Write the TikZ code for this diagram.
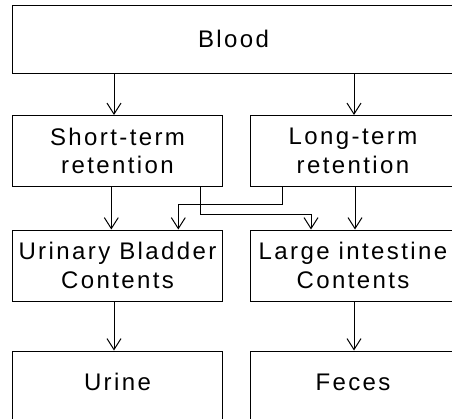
\documentclass[tikz,border=0pt]{standalone}
\usepackage{fontspec}
\setmainfont[LetterSpace=10]{Liberation Sans}
\usetikzlibrary{arrows.meta}
\begin{document}
\begin{tikzpicture}[x=1bp,y=-1bp,
  box/.style={draw, line width=1bp, inner sep=0pt, align=center,
    font=\fontsize{24bp}{28.5bp}\selectfont},
  colbox/.style={box, minimum width=209bp, minimum height=71bp},
  rcolbox/.style={box, minimum width=206bp, minimum height=71bp},
  endbox/.style={text height=17bp, text depth=11bp, minimum height=72bp},
  arr/.style={-{Straight Barb[length=11bp,width=14bp]}, line width=1bp}]
\useasboundingbox (0,0) rectangle (452,418);
\node[box, minimum width=441bp, minimum height=68.3bp] (blood) at (233.5,39.2) {Blood};
\node[colbox] (st) at (117.5,151) {Short-term\\retention};
\node[rcolbox] (lt) at (353,151) {Long-term\\retention};
\node[colbox] (ub) at (117.5,265.5) {Urinary Bladder\\Contents};
\node[rcolbox] (li) at (353,265.5) {Large intestine\\Contents};
\node[colbox, endbox] (ur) at (117.5,387) {Urine};
\node[rcolbox, endbox] (fe) at (353,387) {Feces};
\draw[arr] ([xshift=-3.5bp]st.north |- blood.south) -- ([xshift=-3.5bp]st.north);
\draw[arr] ([xshift=1bp]lt.north |- blood.south) -- ([xshift=1bp]lt.north);
\draw[arr] ([xshift=-6.2bp]st.south) -- ([xshift=-6.2bp]ub.north);
\draw[arr] ([xshift=-70.3bp]lt.south) -- ++(0,17.3) -| ([xshift=60.8bp]ub.north);
\draw[arr] ([xshift=83.2bp]st.south) -- ++(0,27.5) -| ([xshift=-42bp]li.north);
\draw[arr] ([xshift=2bp]lt.south) -- ([xshift=2bp]li.north);
\draw[arr] ([xshift=-3.5bp]ub.south) -- ([xshift=-3.5bp]ur.north);
\draw[arr] ([xshift=1bp]li.south) -- ([xshift=1bp]fe.north);
\end{tikzpicture}
\end{document}
